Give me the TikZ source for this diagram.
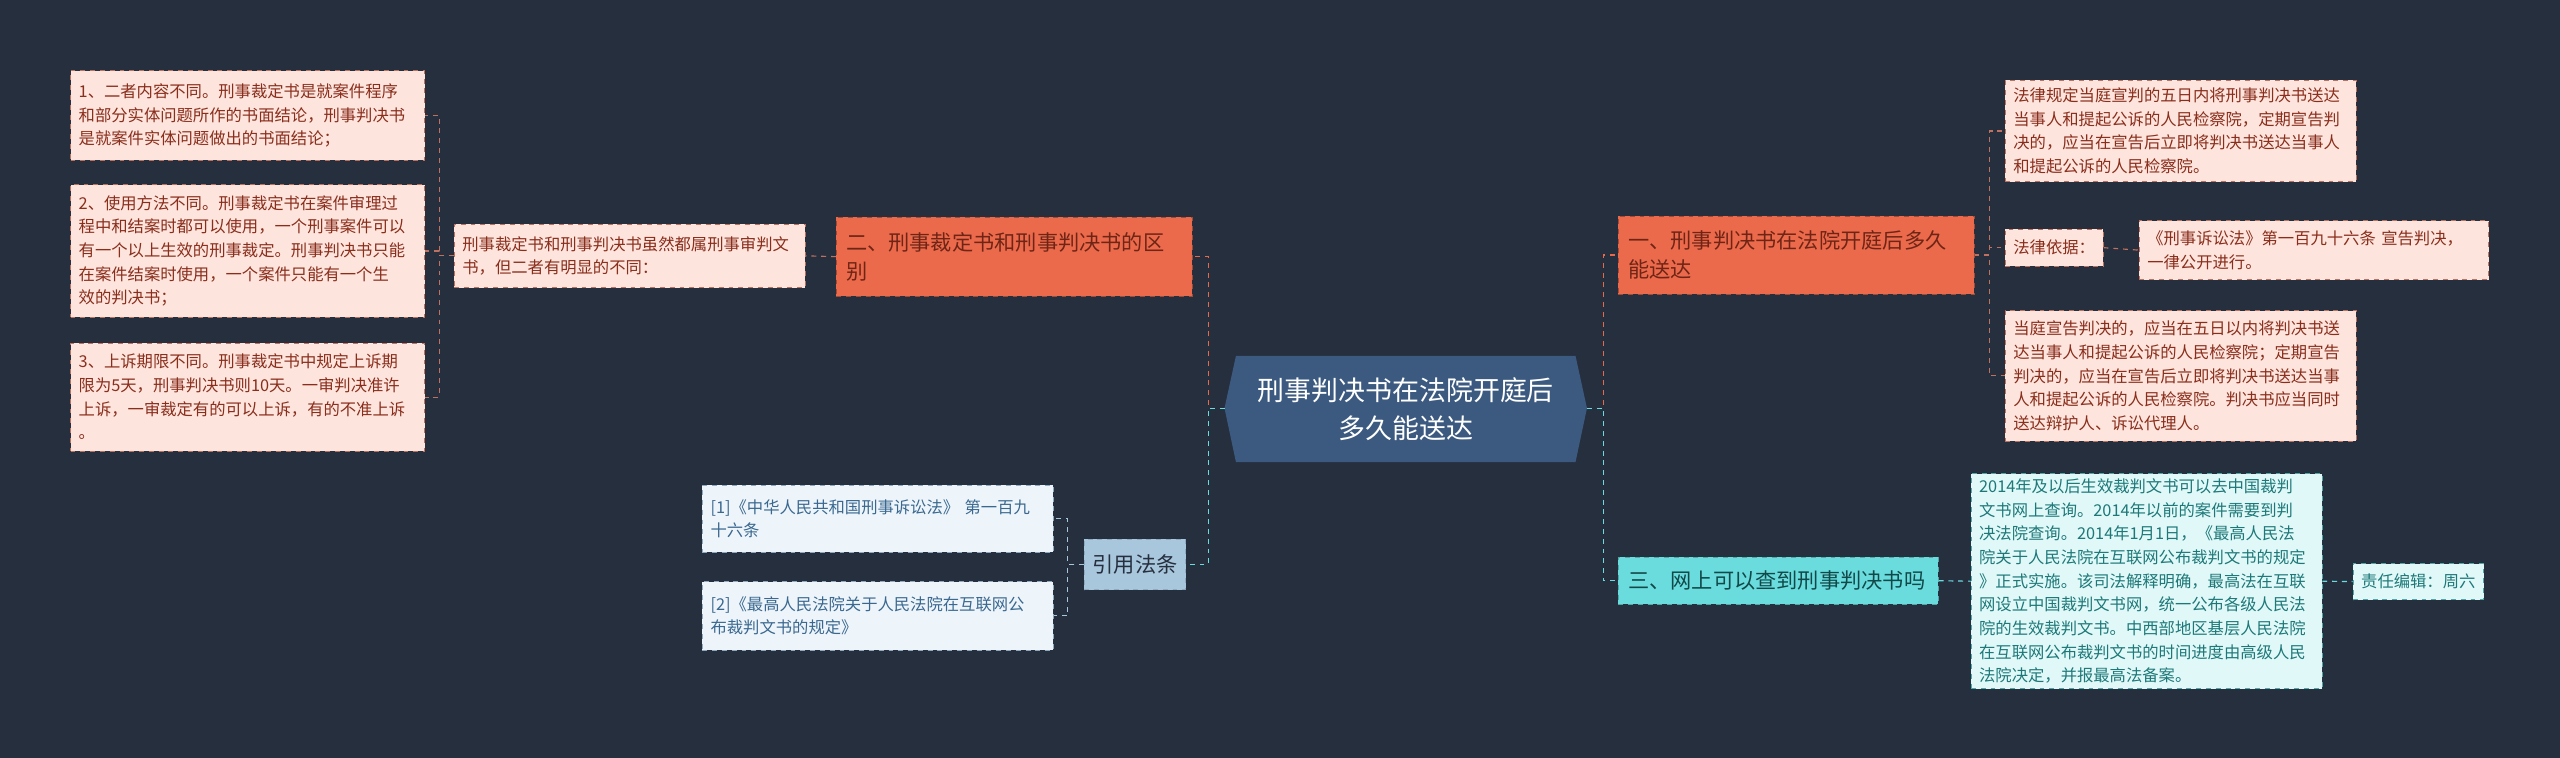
\documentclass[tikz,border=0pt]{standalone}
\usepackage{fontspec}
\setmainfont{Noto Sans CJK SC}
\begin{document}
\begin{tikzpicture}[x=1pt,y=-1pt,
  box/.style={anchor=north west,draw,dashed,align=left,inner xsep=5pt,inner ysep=3pt,font=\fontsize{10}{14.5}\selectfont},
  pink/.style={box,fill=pinkf,draw=pinkd,text=pinkt},
  blue/.style={box,fill=bluef,draw=blued,text=bluet},
  cyan/.style={box,fill=cyanf,draw=cyand,text=cyant},
  main/.style={anchor=north west,draw,dashed,align=left,inner xsep=6pt,inner ysep=3pt,font=\fontsize{13}{18}\selectfont},
  olink/.style={draw=orl,dashed,line width=0.8pt},
  clink/.style={draw=cyl,dashed,line width=0.8pt},
  plink/.style={draw=pinkd,dashed,line width=0.7pt},
  blink/.style={draw=bll,dashed,line width=0.7pt},
  tlink/.style={draw=cyl,dashed,line width=0.7pt}]
\definecolor{bg}{HTML}{262F3E}
\definecolor{pinkf}{HTML}{FDE4DD}
\definecolor{pinkd}{HTML}{C0705E}
\definecolor{pinkt}{HTML}{8A2E1C}
\definecolor{bluef}{HTML}{EEF5FA}
\definecolor{blued}{HTML}{8FA9C0}
\definecolor{bluet}{HTML}{3A6890}
\definecolor{cyanf}{HTML}{E0F8F8}
\definecolor{cyand}{HTML}{4FA8A8}
\definecolor{cyant}{HTML}{1E7878}
\definecolor{orf}{HTML}{EC6A4C}
\definecolor{orl}{HTML}{E8694A}
\definecolor{cyl}{HTML}{6ADCDE}
\definecolor{bll}{HTML}{A8C6DC}
\definecolor{cenf}{HTML}{3C5A80}
\fill[bg] (0,0) rectangle (1568,464);
\useasboundingbox (0,0) rectangle (1568,464);
% center
\fill[cenf] (757,218) -- (965,218) -- (972,250) -- (965,283) -- (757,283) -- (750,250) -- cycle;
\node[font=\fontsize{16.5}{23}\selectfont,text=white,align=center] (c) at (861,250.5) {刑事判决书在法院开庭后\\多久能送达};
\coordinate (cw) at (750,250);
\coordinate (ce) at (972,250);
% main branches
\node[main,fill=orf,draw=orl!70!black,text=pinkt!80!black,text width=206pt,minimum height=48pt] (b2) at (512,133) {二、刑事裁定书和刑事判决书的区\\别};
\node[main,fill=orf,draw=orl!70!black,text=pinkt!80!black,text width=206pt,minimum height=48pt] (b1) at (991,132) {一、刑事判决书在法院开庭后多久\\能送达};
\node[main,fill=cyl,draw=cyand,text=cyant!60!black,text width=184pt,minimum height=29pt] (b3) at (991,341) {三、网上可以查到刑事判决书吗};
\node[main,fill=bll,draw=blued,text=bg,inner xsep=5pt,minimum height=31pt] (bc) at (664,330) {引用法条};
% left children
\node[pink,text width=205pt,minimum height=39pt] (m) at (278,137) {刑事裁定书和刑事判决书虽然都属刑事审判文\\书，但二者有明显的不同：};
\node[pink,text width=207pt,minimum height=55pt] (l1) at (43,43) {1、二者内容不同。刑事裁定书是就案件程序\\和部分实体问题所作的书面结论，刑事判决书\\是就案件实体问题做出的书面结论；};
\node[pink,text width=207pt,minimum height=81pt] (l2) at (43,113) {2、使用方法不同。刑事裁定书在案件审理过\\程中和结案时都可以使用，一个刑事案件可以\\有一个以上生效的刑事裁定。刑事判决书只能\\在案件结案时使用，一个案件只能有一个生\\效的判决书；};
\node[pink,text width=207pt,minimum height=66pt] (l3) at (43,210) {3、上诉期限不同。刑事裁定书中规定上诉期\\限为5天，刑事判决书则10天。一审判决准许\\上诉，一审裁定有的可以上诉，有的不准上诉\\。};
\node[blue,text width=205pt,minimum height=41pt] (c1) at (430,297) {[1]《中华人民共和国刑事诉讼法》 第一百九\\十六条};
\node[blue,text width=205pt,minimum height=42pt] (c2) at (430,356) {[2]《最高人民法院关于人民法院在互联网公\\布裁判文书的规定》};
% right children
\node[pink,text width=205pt,minimum height=62pt] (r1) at (1228,49) {法律规定当庭宣判的五日内将刑事判决书送达\\当事人和提起公诉的人民检察院，定期宣告判\\决的，应当在宣告后立即将判决书送达当事人\\和提起公诉的人民检察院。};
\node[pink,minimum height=23pt] (r2) at (1228,140) {法律依据：};
\node[pink,text width=204pt,minimum height=36pt] (r2a) at (1310,135) {《刑事诉讼法》第一百九十六条 宣告判决，\\一律公开进行。};
\node[pink,text width=205pt,minimum height=80pt] (r3) at (1228,190) {当庭宣告判决的，应当在五日以内将判决书送\\达当事人和提起公诉的人民检察院；定期宣告\\判决的，应当在宣告后立即将判决书送达当事\\人和提起公诉的人民检察院。判决书应当同时\\送达辩护人、诉讼代理人。};
\node[cyan,text width=205pt,minimum height=128pt] (t1) at (1207,290) {2014年及以后生效裁判文书可以去中国裁判\\文书网上查询。2014年以前的案件需要到判\\决法院查询。2014年1月1日，《最高人民法\\院关于人民法院在互联网公布裁判文书的规定\\》正式实施。该司法解释明确，最高法在互联\\网设立中国裁判文书网，统一公布各级人民法\\院的生效裁判文书。中西部地区基层人民法院\\在互联网公布裁判文书的时间进度由高级人民\\法院决定，并报最高法备案。};
\node[cyan,minimum height=22pt] (t2) at (1441,345) {责任编辑：周六};
% connectors
\draw[olink] (cw) -- ++(-10,0) |- (b2.east);
\draw[clink] (cw) -- ++(-10,0) |- (bc.east);
\draw[olink] (ce) -- ++(10,0) |- (b1.west);
\draw[clink] (ce) -- ++(10,0) |- (b3.west);
\draw[plink] (b2.west) -- (m.east);
\draw[plink] (m.west) -- ++(-9,0) |- (l1.east);
\draw[plink] (m.west) -- ++(-9,0) |- (l2.east);
\draw[plink] (m.west) -- ++(-9,0) |- (l3.east);
\draw[blink] (bc.west) -- ++(-10,0) |- (c1.east);
\draw[blink] (bc.west) -- ++(-10,0) |- (c2.east);
\draw[plink] (b1.east) -- ++(9,0) |- (r1.west);
\draw[plink] (b1.east) -- ++(9,0) |- (r2.west);
\draw[plink] (b1.east) -- ++(9,0) |- (r3.west);
\draw[plink] (r2.east) -- (r2a.west);
\draw[tlink] (b3.east) -- (t1.west);
\draw[tlink] (t1.east) -- (t2.west);
\end{tikzpicture}
\end{document}
